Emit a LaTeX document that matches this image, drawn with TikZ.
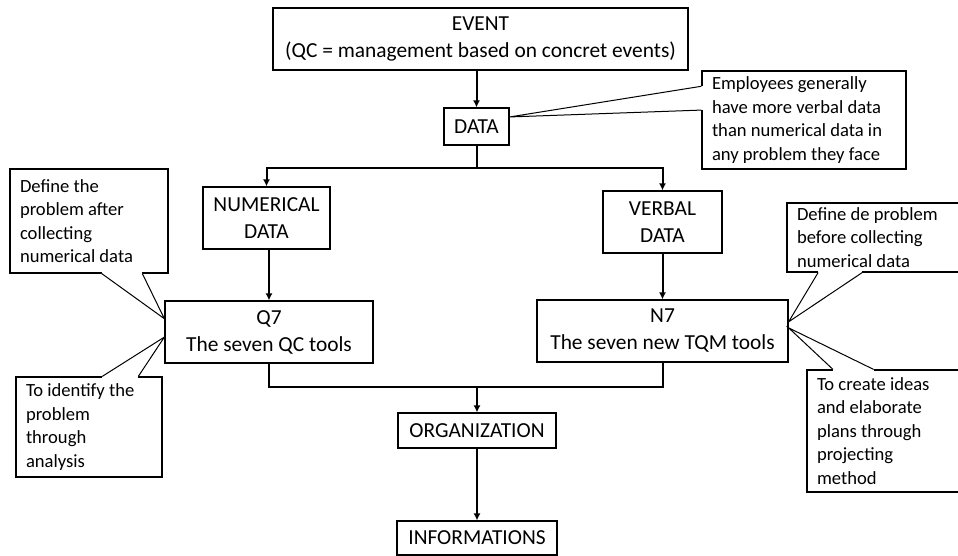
\documentclass[tikz,border=0pt]{standalone}
\usepackage{fontspec}
\setmainfont{Carlito}
\usetikzlibrary{arrows.meta,calc}

% callout pointer: first edge point, tip, second edge point
\newcommand{\callptr}[3]{%
  \fill[white] (#1) -- (#2) -- (#3) -- cycle;
  \draw[white, line width=1.2pt] (#1) -- (#3);
  \draw[line width=0.5pt] (#1) -- (#2) -- (#3);
}

\begin{document}
\begin{tikzpicture}[x=0.5pt, y=-0.5pt,
    box/.style={draw, line width=0.6pt, align=center, inner sep=0pt,
        font=\fontsize{10.7}{13.5}\selectfont},
    note/.style={draw, line width=0.6pt, align=flush left, inner xsep=5pt, inner ysep=0pt,
        font=\fontsize{9.3}{11.75}\selectfont},
    flow/.style={line width=1pt, -{Latex[length=3.5pt,width=3.5pt]}}]
    \useasboundingbox (0,0) rectangle (958,556);

    % Main boxes
    \node[box, minimum width=207.5pt, minimum height=31pt] (event) at (480.5,39)
        {EVENT\\(QC = management based on concret events)};
    \node[box, minimum width=32.5pt, minimum height=18.5pt] (data) at (476.5,126.5) {DATA};
    \node[box, minimum width=63.5pt, minimum height=31pt] (num) at (266.5,218) {NUMERICAL\\DATA};
    \node[box, minimum width=59.5pt, minimum height=31pt] (verb) at (662.5,222) {VERBAL\\DATA};
    \node[box, minimum width=104pt, minimum height=31pt] (q7) at (269,332) {Q7\\The seven QC tools};
    \node[box, minimum width=125.5pt, minimum height=31pt] (n7) at (662.5,331) {N7\\The seven new TQM tools};
    \node[box, minimum width=79pt, minimum height=17.5pt] (org) at (477,430.5) {ORGANIZATION};
    \node[box, minimum width=80pt, minimum height=17pt] (info) at (477,538) {INFORMATIONS};

    % Callout boxes
    \node[note, text width=92pt, minimum height=49pt] (emp) at (804,120)
        {Employees generally\\have more verbal data\\than numerical data in\\any problem they face};
    \node[note, text width=69pt, minimum height=52pt] (defA) at (89,221)
        {Define the\\problem after\\collecting\\numerical data};
    \node[note, text width=63pt, minimum height=50pt] (ident) at (89,427)
        {To identify the\\problem\\through\\analysis};
    \node[note, text width=77.5pt, minimum height=34.5pt] (defB) at (874.5,237.5)
        {Define de problem\\before collecting\\numerical data};
    \node[note, text width=67.5pt, minimum height=61pt] (ideas) at (884.5,431)
        {To create ideas\\and elaborate\\plans through\\projecting\\method};

    % Flow arrows
    \coordinate (split) at ($(data.south)+(0,22)$);
    \coordinate (merge) at ($(org.north)+(0,-25)$);
    \draw[flow] (data.north |- event.south) -- (data.north);
    \draw[line width=1pt] (data.south) -- (split);
    \draw[flow] (split) -| (num.north);
    \draw[flow] (split) -| (verb.north);
    \draw[flow] (q7.north |- num.south) -- (q7.north);
    \draw[flow] (n7.north |- verb.south) -- (n7.north);
    \draw[line width=1pt] (q7.south) |- (merge) -| (n7.south);
    \draw[flow] (merge) -- (org.north);
    \draw[flow] (org.south) -- (info.north);

    % Callout pointers
    \coordinate (empTip) at ($(data.north east)!0.25!(data.south east)$);
    \coordinate (defATip) at ($(q7.north west)!0.29!(q7.south west)$);
    \coordinate (identTip) at ($(q7.north west)!0.58!(q7.south west)$);
    \coordinate (defBTip) at ($(n7.north east)!0.355!(n7.south east)$);
    \coordinate (ideasTip) at ($(n7.north east)!0.45!(n7.south east)$);
    \callptr{$(emp.north west)!0.16!(emp.south west)$}{empTip}{$(emp.north west)!0.4!(emp.south west)$}
    \callptr{$(defA.south west)!0.58!(defA.south east)$}{defATip}{$(defA.south west)!0.835!(defA.south east)$}
    \callptr{$(ident.north west)!0.59!(ident.north east)$}{identTip}{$(ident.north west)!0.835!(ident.north east)$}
    \callptr{$(defB.south west)!0.18!(defB.south east)$}{defBTip}{$(defB.south west)!0.43!(defB.south east)$}
    \callptr{$(ideas.north west)!0.17!(ideas.north east)$}{ideasTip}{$(ideas.north west)!0.43!(ideas.north east)$}
\end{tikzpicture}
\end{document}
